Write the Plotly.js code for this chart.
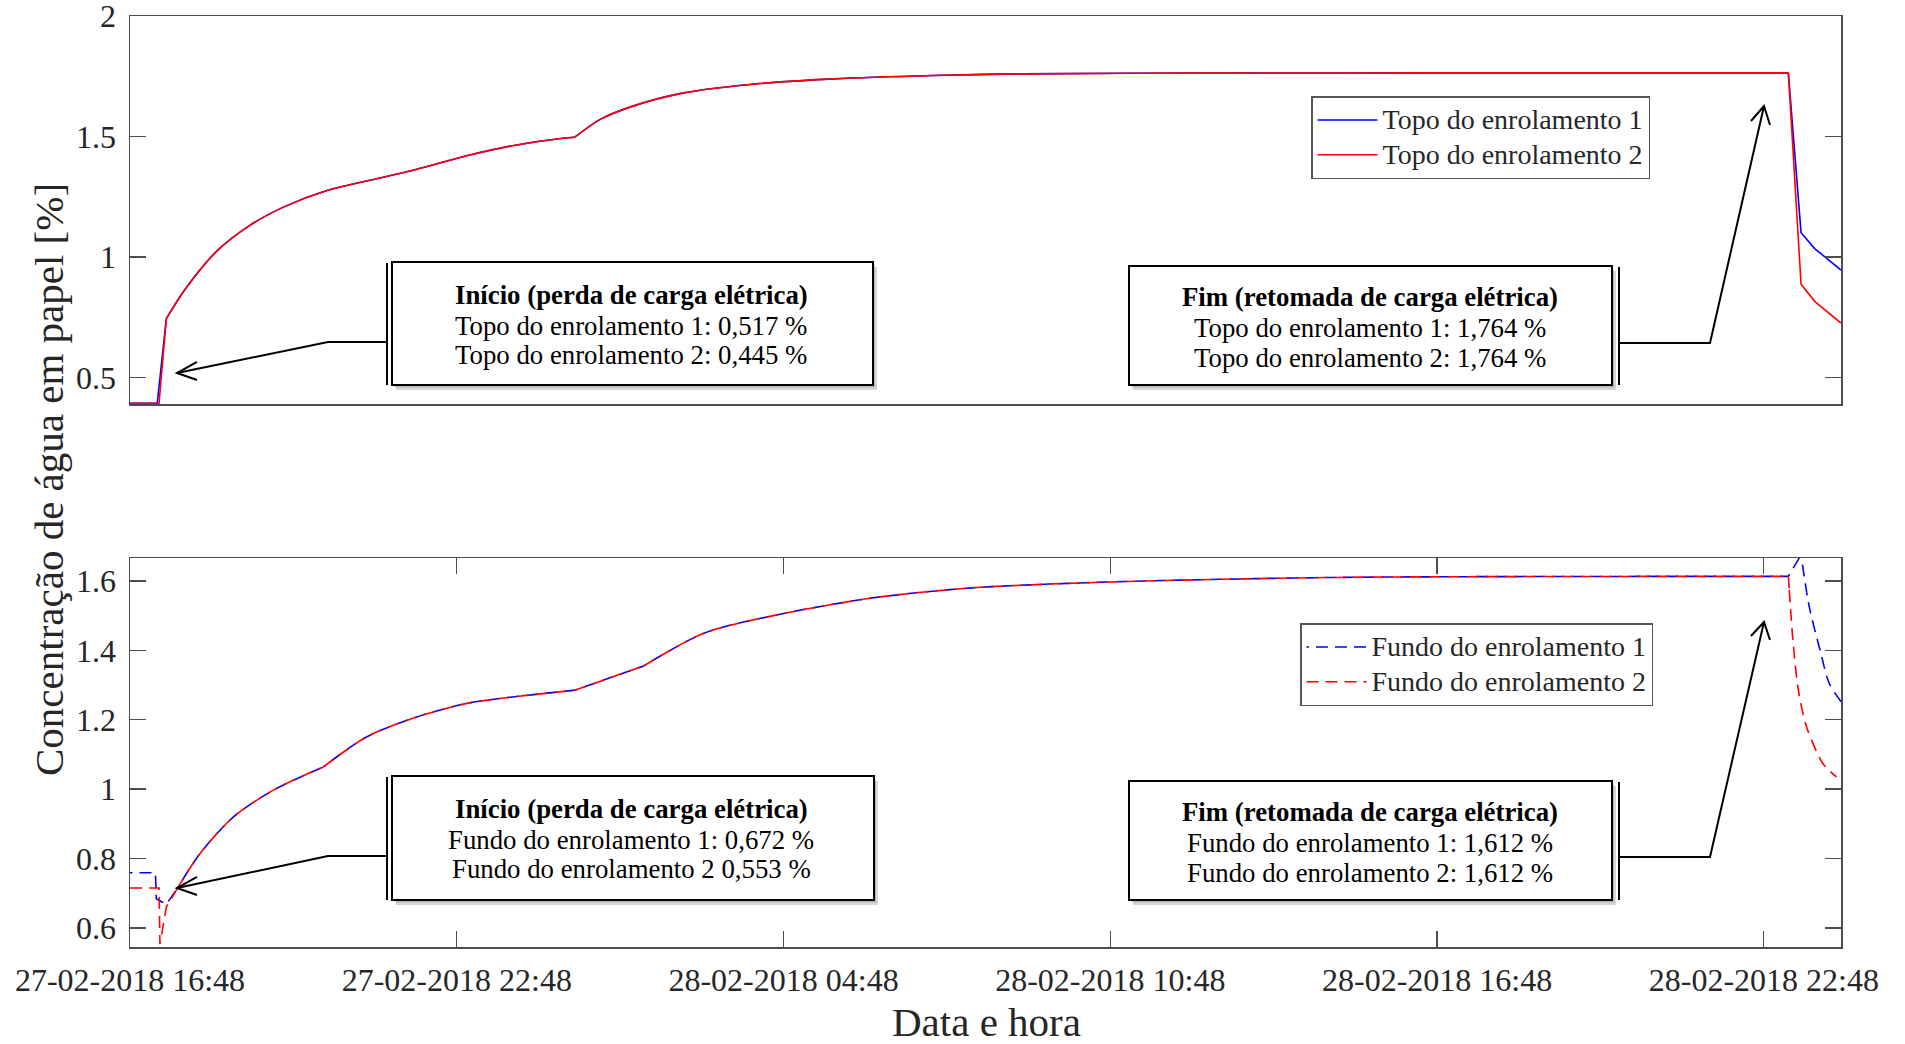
<!DOCTYPE html>
<html>
<head>
<meta charset="utf-8">
<script src="https://cdn.plot.ly/plotly-3.0.1.min.js"></script>
<style>
  html, body { margin: 0; padding: 0; background: #ffffff; }
  #chart { width: 1905px; height: 1044px; }
</style>
</head>
<body>
<div id="chart"></div>
<script>
// ---------------- DATA ----------------
// Top panel: "Topo do enrolamento 1" (blue) and "Topo do enrolamento 2" (red)
const topoTime1 = [
  "2018-02-27 16:48", "2018-02-27 17:18", "2018-02-27 17:28", "2018-02-27 17:47",
  "2018-02-27 18:23", "2018-02-27 19:00", "2018-02-27 19:37", "2018-02-27 20:25",
  "2018-02-27 21:27", "2018-02-27 22:02", "2018-02-27 22:59", "2018-02-27 23:54",
  "2018-02-28 00:45", "2018-02-28 00:58", "2018-02-28 01:26", "2018-02-28 02:02",
  "2018-02-28 02:58", "2018-02-28 04:11", "2018-02-28 05:43", "2018-02-28 07:33",
  "2018-02-28 09:11", "2018-02-28 12:48", "2018-02-28 16:48", "2018-02-28 23:15",
  "2018-02-28 23:29", "2018-02-28 23:44", "2018-03-01 00:13"
];
const topo1 = [
  0.393, 0.393, 0.744, 0.857,
  1.022, 1.131, 1.207, 1.276,
  1.331, 1.362, 1.420, 1.465,
  1.493, 1.497, 1.571, 1.626,
  1.681, 1.716, 1.739, 1.753,
  1.760, 1.763, 1.764, 1.764,
  1.101, 1.035, 0.946
];
const topoTime2 = [
  "2018-02-27 16:48", "2018-02-27 17:20", "2018-02-27 17:28", "2018-02-27 17:47",
  "2018-02-27 18:23", "2018-02-27 19:00", "2018-02-27 19:37", "2018-02-27 20:25",
  "2018-02-27 21:27", "2018-02-27 22:02", "2018-02-27 22:59", "2018-02-27 23:54",
  "2018-02-28 00:45", "2018-02-28 00:58", "2018-02-28 01:26", "2018-02-28 02:02",
  "2018-02-28 02:58", "2018-02-28 04:11", "2018-02-28 05:43", "2018-02-28 07:33",
  "2018-02-28 09:11", "2018-02-28 12:48", "2018-02-28 16:48", "2018-02-28 23:15",
  "2018-02-28 23:29", "2018-02-28 23:44", "2018-03-01 00:13"
];
const topo2 = [
  0.393, 0.393, 0.744, 0.857,
  1.022, 1.131, 1.207, 1.276,
  1.331, 1.362, 1.420, 1.465,
  1.493, 1.497, 1.571, 1.626,
  1.681, 1.716, 1.739, 1.753,
  1.760, 1.763, 1.764, 1.764,
  0.887, 0.816, 0.726
];

// Bottom panel: "Fundo do enrolamento 1" (blue dashed) and "Fundo do enrolamento 2" (red dashed)
const fundoTime1 = [
  "2018-02-27 16:48", "2018-02-27 17:16", "2018-02-27 17:17", "2018-02-27 17:28",
  "2018-02-27 17:40", "2018-02-27 18:05", "2018-02-27 18:42", "2018-02-27 19:26",
  "2018-02-27 20:21", "2018-02-27 21:09", "2018-02-27 22:04", "2018-02-27 22:59",
  "2018-02-27 23:35", "2018-02-28 00:58", "2018-02-28 02:14", "2018-02-28 03:21",
  "2018-02-28 04:48", "2018-02-28 06:29", "2018-02-28 08:16", "2018-02-28 10:48",
  "2018-02-28 14:57", "2018-02-28 23:15", "2018-02-28 23:29", "2018-02-28 23:38",
  "2018-02-28 23:50", "2018-03-01 00:00", "2018-03-01 00:13"
];
const fundo1 = [
  0.759, 0.759, 0.684, 0.668,
  0.713, 0.814, 0.920, 0.997,
  1.064, 1.151, 1.208, 1.247,
  1.261, 1.285, 1.355, 1.450,
  1.506, 1.552, 1.580, 1.597,
  1.610, 1.613, 1.675, 1.526,
  1.400, 1.305, 1.252
];
const fundoTime2 = [
  "2018-02-27 16:48", "2018-02-27 17:20", "2018-02-27 17:21", "2018-02-27 17:28",
  "2018-02-27 17:40", "2018-02-27 18:05", "2018-02-27 18:42", "2018-02-27 19:26",
  "2018-02-27 20:21", "2018-02-27 21:09", "2018-02-27 22:04", "2018-02-27 22:59",
  "2018-02-27 23:35", "2018-02-28 00:58", "2018-02-28 02:14", "2018-02-28 03:21",
  "2018-02-28 04:48", "2018-02-28 06:29", "2018-02-28 08:16", "2018-02-28 10:48",
  "2018-02-28 14:57", "2018-02-28 23:15", "2018-02-28 23:16", "2018-02-28 23:20",
  "2018-02-28 23:26", "2018-02-28 23:35", "2018-02-28 23:53", "2018-03-01 00:08"
];
const fundo2 = [
  0.715, 0.715, 0.553, 0.660,
  0.713, 0.814, 0.920, 0.997,
  1.064, 1.151, 1.208, 1.247,
  1.261, 1.285, 1.355, 1.450,
  1.506, 1.552, 1.580, 1.597,
  1.610, 1.613, 1.574, 1.430,
  1.285, 1.180, 1.074, 1.035
];

// Tick labels
const xTickVals = ["2018-02-27 16:48", "2018-02-27 22:48", "2018-02-28 04:48",
                   "2018-02-28 10:48", "2018-02-28 16:48", "2018-02-28 22:48"];
const xTickText = ["27-02-2018 16:48", "27-02-2018 22:48", "28-02-2018 04:48",
                   "28-02-2018 10:48", "28-02-2018 16:48", "28-02-2018 22:48"];
const yTopTicks = [0.5, 1, 1.5, 2];
const yTopText = ["0.5", "1", "1.5", "2"];
const yBotTicks = [0.6, 0.8, 1, 1.2, 1.4, 1.6];
const yBotText = ["0.6", "0.8", "1", "1.2", "1.4", "1.6"];

// Legend names
const names = ["Topo do enrolamento 1", "Topo do enrolamento 2",
               "Fundo do enrolamento 1", "Fundo do enrolamento 2"];

// Annotation box texts
const boxTexts = [
  ["Início (perda de carga elétrica)", "Topo do enrolamento 1: 0,517 %", "Topo do enrolamento 2: 0,445 %"],
  ["Fim (retomada de carga elétrica)", "Topo do enrolamento 1: 1,764 %", "Topo do enrolamento 2: 1,764 %"],
  ["Início (perda de carga elétrica)", "Fundo do enrolamento 1: 0,672 %", "Fundo do enrolamento 2 0,553 %"],
  ["Fim (retomada de carga elétrica)", "Fundo do enrolamento 1: 1,612 %", "Fundo do enrolamento 2: 1,612 %"]
];

// ---------------- LAYOUT HELPERS ----------------
const FONT = "Liberation Serif, Times New Roman, serif";
const W = 1905, H = 1044;
const ML = 130, MR = 64, MT = 16, MB = 97;
const PW = W - ML - MR, PH = H - MT - MB;
const px = x => (x - ML) / PW;
const py = y => (H - MB - y) / PH;
const AX = "#4d4d4d", TXT = "#262626";

const shapes = [];
const annotations = [];

function pathOf(pts) {
  return pts.map((p, i) => (i ? "L" : "M") + px(p[0]).toFixed(5) + "," + py(p[1]).toFixed(5)).join(" ");
}

// geometry of the callout boxes (pixels)
const boxGeom = [
  {x0: 392, y0: 262, x1: 873, y1: 385, dbl: 387, tx: 631, ty: [295, 326, 355],
   conn: [[387, 342], [328, 342], [177, 373]], head: [[197, 362], [177, 373], [197, 380]]},
  {x0: 1129, y0: 266, x1: 1612, y1: 385, dbl: 1619, tx: 1370, ty: [297, 328, 358],
   conn: [[1619, 343], [1710, 343], [1764, 106]], head: [[1751, 121], [1764, 106], [1770, 125]]},
  {x0: 392, y0: 776, x1: 874, y1: 900, dbl: 387, tx: 631, ty: [809, 840, 869],
   conn: [[387, 856], [328, 856], [177, 888]], head: [[197, 877], [177, 888], [197, 895]]},
  {x0: 1129, y0: 781, x1: 1612, y1: 900, dbl: 1619, tx: 1370, ty: [812, 843, 873],
   conn: [[1619, 857], [1710, 857], [1764, 622]], head: [[1751, 636], [1764, 622], [1770, 640]]}
];

boxGeom.forEach((b, i) => {
  shapes.push({type: "rect", xref: "paper", yref: "paper",
    x0: px(b.x0 + 4), x1: px(b.x1 + 4), y0: py(b.y1 + 5), y1: py(b.y0 + 5),
    line: {width: 0}, fillcolor: "rgba(0,0,0,0.16)"});
  shapes.push({type: "rect", xref: "paper", yref: "paper",
    x0: px(b.x0 + 2), x1: px(b.x1 + 2), y0: py(b.y1 + 2.5), y1: py(b.y0 + 2.5),
    line: {width: 0}, fillcolor: "rgba(0,0,0,0.14)"});
  shapes.push({type: "rect", xref: "paper", yref: "paper",
    x0: px(b.x0), x1: px(b.x1), y0: py(b.y1), y1: py(b.y0),
    line: {width: 2, color: "#000"}, fillcolor: "#ffffff"});
  shapes.push({type: "line", xref: "paper", yref: "paper",
    x0: px(b.dbl), x1: px(b.dbl), y0: py(b.y1), y1: py(b.y0 + 1),
    line: {width: 2, color: "#000"}});
  shapes.push({type: "path", xref: "paper", yref: "paper", path: pathOf(b.conn),
    line: {width: 2, color: "#000"}});
  shapes.push({type: "path", xref: "paper", yref: "paper", path: pathOf(b.head),
    line: {width: 2, color: "#000"}});
  boxTexts[i].forEach((t, j) => {
    annotations.push({xref: "paper", yref: "paper", x: px(b.tx), y: py(b.ty[j]),
      xanchor: "center", yanchor: "middle", showarrow: false,
      text: j === 0 ? "<b>" + t + "</b>" : t,
      font: {family: FONT, size: 26.8, color: "#000"}});
  });
});

// axis titles
annotations.push({xref: "paper", yref: "paper", x: px(49), y: py(480),
  xanchor: "center", yanchor: "middle", showarrow: false, textangle: -90,
  text: "Concentração de água em papel [%]", font: {family: FONT, size: 41, color: TXT}});
annotations.push({xref: "paper", yref: "paper", x: px(986), y: py(1022),
  xanchor: "center", yanchor: "middle", showarrow: false,
  text: "Data e hora", font: {family: FONT, size: 41, color: TXT}});

// ---------------- TRACES ----------------
// Each series is drawn in pieces: straight pieces where the reference has sharp steps,
// smoothed pieces where the reference curve is smooth.
const traces = [];
function addSeries(t, v, name, color, dash, xa, ya, leg, segs) {
  segs.forEach((s, k) => {
    traces.push({
      x: t.slice(s[0], s[1] + 1), y: v.slice(s[0], s[1] + 1),
      name: '<span style="font-size:28px">' + name + '</span>',
      legendgroup: name, showlegend: k === 0,
      type: "scatter", mode: "lines", hoverinfo: "skip",
      line: {color: color, width: 1.6, dash: dash, shape: s[2], smoothing: 0.8},
      xaxis: xa, yaxis: ya, legend: leg
    });
  });
}
const segTop = [[0, 2, "linear"], [2, 13, "spline"], [13, 23, "spline"], [23, 26, "linear"]];
addSeries(topoTime1, topo1, names[0], "#0000ff", "solid", "x", "y", "legend", segTop);
addSeries(topoTime2, topo2, names[1], "#ff0000", "solid", "x", "y", "legend", segTop);
// blue dashes are phase-shifted so that both dashed series stay visible where they overlap
addSeries(fundoTime1, fundo1, names[2], "#0000ff", "2.5px,7px,9.5px,0px", "x2", "y2", "legend2",
  [[0, 4, "linear"], [4, 8, "spline"], [8, 13, "spline"], [13, 14, "linear"], [14, 21, "spline"],
   [21, 22, "linear"], [22, 26, "spline"]]);
addSeries(fundoTime2, fundo2, names[3], "#ff0000", "12px,7px", "x2", "y2", "legend2",
  [[0, 4, "linear"], [4, 8, "spline"], [8, 13, "spline"], [13, 14, "linear"], [14, 21, "spline"],
   [21, 22, "linear"], [22, 27, "spline"]]);

const xRange = ["2018-02-27 16:48", "2018-03-01 00:13"];
const botTop = (H - MB - 558) / PH;
const topBot = (H - MB - 404) / PH;

const commonAxis = {showgrid: false, zeroline: false, showline: true, linecolor: AX, linewidth: 1.5,
  tickcolor: AX, tickwidth: 1.3, ticklen: 16, ticks: "inside", ticklabeloverflow: "allow",
  tickfont: {family: FONT, size: 32, color: TXT}};

const legendCommon = {bgcolor: "#ffffff", bordercolor: "#555555", borderwidth: 1.5,
  font: {family: FONT, size: 24.5, color: TXT}, xanchor: "left", yanchor: "top",
  itemwidth: 60, tracegroupgap: 0, itemclick: false};

const layout = {
  width: W, height: H,
  margin: {l: ML, r: MR, t: MT, b: MB, pad: 0},
  paper_bgcolor: "#ffffff", plot_bgcolor: "#ffffff",
  font: {family: FONT, color: TXT},
  showlegend: true,
  xaxis: Object.assign({}, commonAxis, {type: "date", range: xRange, domain: [0, 1], anchor: "y",
    mirror: true, ticks: "", showticklabels: false}),
  yaxis: Object.assign({}, commonAxis, {range: [0.39, 2], domain: [topBot, 1], anchor: "x",
    mirror: "ticks", tickmode: "array", tickvals: yTopTicks, ticktext: yTopText, ticklabelstandoff: 6}),
  xaxis2: Object.assign({}, commonAxis, {type: "date", range: xRange, domain: [0, 1], anchor: "y2",
    mirror: "ticks", tickmode: "array", tickvals: xTickVals, ticktext: xTickText, ticklabelstandoff: 4}),
  yaxis2: Object.assign({}, commonAxis, {range: [0.545, 1.666], domain: [0, botTop], anchor: "x2",
    mirror: "ticks", tickmode: "array", tickvals: yBotTicks, ticktext: yBotText, ticklabelstandoff: 6}),
  legend: Object.assign({}, legendCommon, {x: px(1311), y: py(96)}),
  legend2: Object.assign({}, legendCommon, {x: px(1300), y: py(623)}),
  shapes: shapes,
  annotations: annotations
};

Plotly.newPlot("chart", traces, layout, {staticPlot: true, displayModeBar: false});
</script>
</body>
</html>
